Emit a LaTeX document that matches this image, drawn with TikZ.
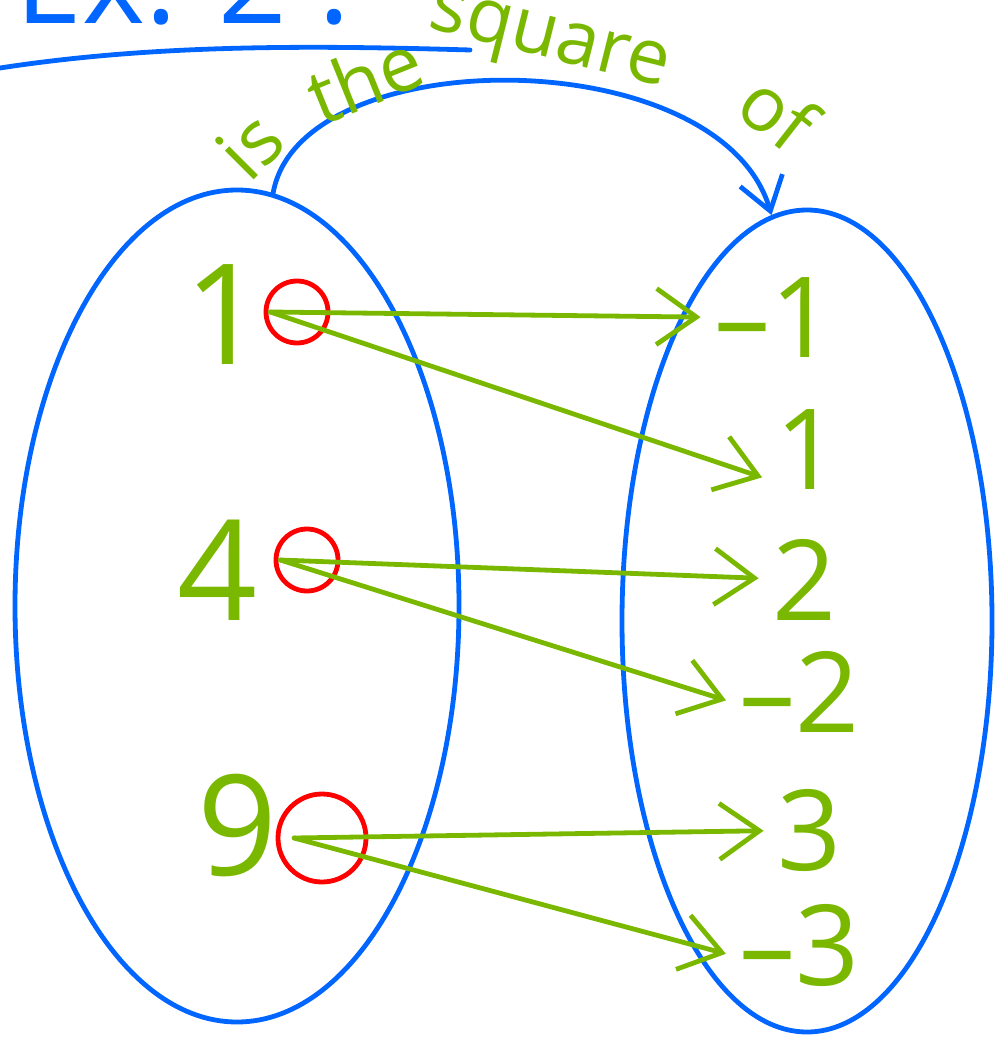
\documentclass[tikz,border=0pt]{standalone}
\usepackage{fontspec}
\setmainfont{Open Sans}
\usetikzlibrary{shapes.geometric, arrows.meta, calc}
\definecolor{penblue}{RGB}{0,102,255}
\definecolor{pengreen}{RGB}{122,184,0}
\definecolor{penred}{RGB}{255,0,0}

\begin{document}
\begin{tikzpicture}[
    x=0.5pt, y=-0.5pt,
    set/.style={ellipse, draw=penblue, line width=2.4pt, inner sep=0pt},
    num/.style={text=pengreen, font=\fontsize{56}{56}\selectfont, inner sep=2pt},
    bignum/.style={num, font=\fontsize{70}{70}\selectfont},
    ring/.style={circle, draw=penred, line width=2.4pt, inner sep=0pt},
    word/.style={text=pengreen, font=\fontsize{38}{38}\selectfont, inner sep=0pt},
    maparrow/.style={-{Straight Barb[length=20pt, width=28pt, line width=2.4pt]}, draw=pengreen, line width=2.4pt, line cap=round, shorten >=5pt},
    relarrow/.style={-{Straight Barb[length=16pt, width=22pt, line width=2.4pt]}, draw=penblue, line width=2.4pt, line cap=round},
]
\path[use as bounding box, clip] (0,0) rectangle (995,1037);

% heading
\node[anchor=base west, text=penblue, font=\fontsize{60}{60}\selectfont, inner sep=0pt] (title) at (15,24) {Ex. 2 :};
\draw[penblue, line width=2.4pt, line cap=round] (0,68) .. controls (150,45) and (300,45) .. (470,50);

% the two sets
\node[set, minimum width=222pt, minimum height=416pt] (domain) at (237,606) {};
\node[set, minimum width=185pt, minimum height=411pt] (codomain) at (807,621) {};

% relation name
\draw[relarrow] (domain.85) .. controls (300,40) and (720,40) .. (codomain.95);
\node[word, rotate=45] (lblis) at (250,145) {is};
\node[word, rotate=22] (lblthe) at (365,78) {the};
\node[word, rotate=-14] (lblsquare) at (548,46) {square};
\node[word, rotate=-38] (lblof) at (778,112) {of};

% domain elements
\node[bignum] (lone) at (225,315) {1};
\node[bignum] (lfour) at (218,570) {4};
\node[bignum] (lnine) at (238,825) {9};
\node[ring, minimum size=31pt] (c1) at (297,312) {};
\node[ring, minimum size=31pt] (c4) at (307,560) {};
\node[ring, minimum size=44pt] (c9) at (322,838) {};

% codomain elements
\node[num] (rm1) at (775,318) {–1};
\node[num] (rp1) at (808,450) {1};
\node[num] (rp2) at (805,580) {2};
\node[num] (rm2) at (800,692) {–2};
\node[num] (rp3) at (810,830) {3};
\node[num] (rm3) at (800,945) {–3};

% mapping
\draw[maparrow] ($(c1.center)!0.8!(c1.west)$) -- (rm1);
\draw[maparrow] ($(c1.center)!0.8!(c1.west)$) -- (rp1.220);
\draw[maparrow] ($(c4.center)!0.8!(c4.west)$) -- (rp2);
\draw[maparrow] ($(c4.center)!0.8!(c4.west)$) -- (rm2.190);
\draw[maparrow] ($(c9.center)!0.6!(c9.west)$) -- (rp3);
\draw[maparrow] ($(c9.center)!0.6!(c9.west)$) -- (rm3.190);
\end{tikzpicture}
\end{document}
